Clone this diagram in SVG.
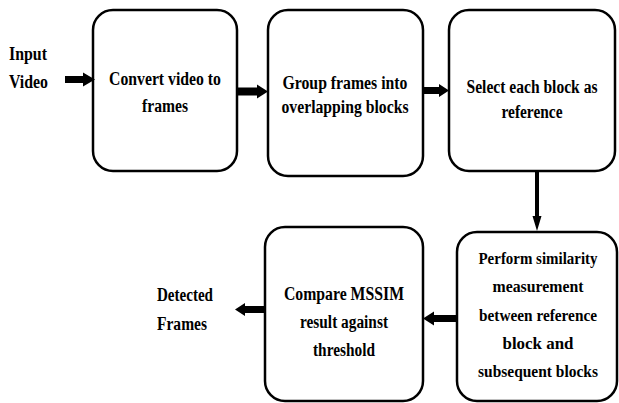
<svg xmlns="http://www.w3.org/2000/svg" width="619" height="403" viewBox="0 0 619 403">
<style>
.box{fill:#fff;stroke:#000;stroke-width:2.5}
.t{font-family:"Liberation Serif","Times New Roman",serif;font-weight:bold;font-size:18px;fill:#000;text-anchor:middle}
.s{font-size:17px}
.l{text-anchor:start}
.arr{fill:#000;stroke:none}
</style>
<rect width="619" height="403" fill="#fff"/>
<g id="input">
<text class="t l" x="9" y="60" textLength="38" lengthAdjust="spacingAndGlyphs">Input</text>
<text class="t l" x="9" y="88" textLength="39" lengthAdjust="spacingAndGlyphs">Video</text>
</g>
<g id="n1">
<rect class="box" x="93" y="10" width="144" height="161" rx="20"/>
<text class="t" x="165" y="85" textLength="112" lengthAdjust="spacingAndGlyphs">Convert video to</text>
<text class="t" x="165" y="112" textLength="46" lengthAdjust="spacingAndGlyphs">frames</text>
</g>
<g id="n2">
<rect class="box" x="268" y="10" width="155" height="166" rx="20"/>
<text class="t" x="345" y="89" textLength="125" lengthAdjust="spacingAndGlyphs">Group frames into</text>
<text class="t" x="345" y="113" textLength="127" lengthAdjust="spacingAndGlyphs">overlapping blocks</text>
</g>
<g id="n3">
<rect class="box" x="449" y="10" width="166" height="161" rx="20"/>
<text class="t" x="532" y="93" textLength="131" lengthAdjust="spacingAndGlyphs">Select each block as</text>
<text class="t" x="532" y="118" textLength="61" lengthAdjust="spacingAndGlyphs">reference</text>
</g>
<g id="n4">
<rect class="box" x="457" y="232" width="160" height="169" rx="20"/>
<text class="t s" x="538" y="264" textLength="119" lengthAdjust="spacingAndGlyphs">Perform similarity</text>
<text class="t s" x="538" y="292" textLength="91" lengthAdjust="spacingAndGlyphs">measurement</text>
<text class="t s" x="538" y="321" textLength="118" lengthAdjust="spacingAndGlyphs">between reference</text>
<text class="t s" x="538" y="349" textLength="71" lengthAdjust="spacingAndGlyphs">block and</text>
<text class="t s" x="538" y="377" textLength="120" lengthAdjust="spacingAndGlyphs">subsequent blocks</text>
</g>
<g id="n5">
<rect class="box" x="265" y="227" width="158" height="174" rx="20"/>
<text class="t" x="344" y="300" textLength="120" lengthAdjust="spacingAndGlyphs">Compare MSSIM</text>
<text class="t" x="344" y="328" textLength="88" lengthAdjust="spacingAndGlyphs">result against</text>
<text class="t" x="344" y="356" textLength="62" lengthAdjust="spacingAndGlyphs">threshold</text>
</g>
<g id="output">
<text class="t l" x="157" y="301" textLength="56" lengthAdjust="spacingAndGlyphs">Detected</text>
<text class="t l" x="157" y="330" textLength="50" lengthAdjust="spacingAndGlyphs">Frames</text>
</g>
<g id="connectors">
<path class="arr" d="M65,76 H83 V72.5 L95,79.5 L83,86.5 V83 H65 Z"/>
<path class="arr" d="M238,87.5 H257 V84.5 L268,91.5 L257,98.5 V95.5 H238 Z"/>
<path class="arr" d="M424,87 H439 V84 L449,90.5 L439,97 V94 H424 Z"/>
<path class="arr" d="M535,172 H539 V216 H541.5 L537,231 L532.5,216 H535 Z"/>
<path class="arr" d="M456,315 H434 V311.5 L423,318.5 L434,325.5 V322 H456 Z"/>
<path class="arr" d="M264,306 H245 V303 L235,309.5 L245,316 V313 H264 Z"/>
</g>
</svg>
